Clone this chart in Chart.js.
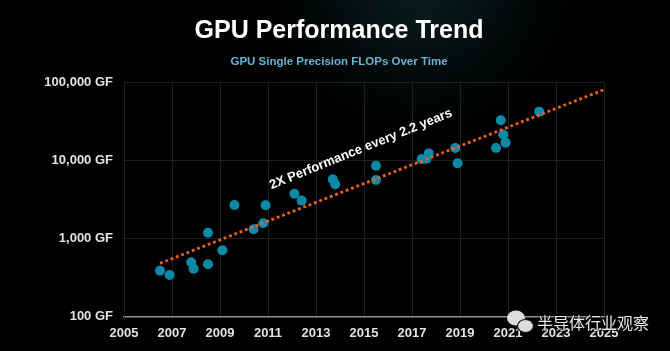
<!DOCTYPE html>
<html>
<head>
<meta charset="utf-8">
<script src="https://cdn.jsdelivr.net/npm/chart.js@4/dist/chart.umd.min.js"></script>
<style>
  html, body { margin: 0; padding: 0; background: #000; }
  #wrap { width: 670px; height: 351px; }
</style>
</head>
<body>
<div id="wrap"><canvas id="gpuChart" width="670" height="351"></canvas></div>
<script>
// GPU single precision GFLOPs by release year
const years = [2006.5, 2006.9, 2007.8, 2007.9, 2008.5, 2008.5, 2009.1, 2009.6, 2010.4, 2010.8,
               2010.9, 2012.1, 2012.4, 2013.7, 2013.8, 2015.5, 2015.5, 2017.4, 2017.6, 2017.7,
               2018.8, 2018.9, 2020.5, 2020.7, 2020.8, 2020.9, 2022.3];
const gflops = [388, 342, 497, 411, 469, 1190, 708, 2690, 1315, 1570,
                2670, 3750, 3060, 5740, 4960, 8570, 5630, 10400, 10500, 12300,
                14400, 9190, 14400, 32700, 21500, 16900, 42100];

// trend line ends
const trendYears = [2006.5, 2025];
const trendGflops = [482, 80400];

const yTicks = [100, 1000, 10000, 100000];
const yTickLabels = ['100 GF', '1,000 GF', '10,000 GF', '100,000 GF'];
const xTicks = [2005, 2007, 2009, 2011, 2013, 2015, 2017, 2019, 2021, 2023, 2025];
const xTickLabels = ['2005', '2007', '2009', '2011', '2013', '2015', '2017', '2019', '2021', '2023', '2025'];

const titleText = 'GPU Performance Trend';
const subtitleText = 'GPU Single Precision FLOPs Over Time';
const trendLabel = '2X Performance every 2.2 years';
const watermark = '半导体行业观察';

const FONT = '"Liberation Sans", Arial, Helvetica, sans-serif';

const decorations = {
    id: 'decorations',
    beforeDraw(chart) {
        const ctx = chart.ctx;
        ctx.save();
        ctx.fillStyle = '#000';
        ctx.fillRect(0, 0, chart.width, chart.height);
        // faint teal haze at the top
        const g = ctx.createRadialGradient(420, -20, 10, 420, -20, 200);
        g.addColorStop(0, 'rgba(30,90,95,0.35)');
        g.addColorStop(1, 'rgba(0,0,0,0)');
        ctx.fillStyle = g;
        ctx.fillRect(0, 0, chart.width, chart.height);
        ctx.restore();
    },
    afterDraw(chart) {
        const ctx = chart.ctx;
        const xs = chart.scales.x, ys = chart.scales.y;
        ctx.save();
        ctx.textAlign = 'center';
        ctx.textBaseline = 'middle';

        ctx.fillStyle = '#ffffff';
        ctx.font = 'bold 25px ' + FONT;
        ctx.fillText(titleText, 339, 31);

        ctx.fillStyle = '#66b4d4';
        ctx.font = 'bold 11.5px ' + FONT;
        ctx.fillText(subtitleText, 339, 62);

        // label along the trend
        ctx.save();
        ctx.translate(xs.getPixelForValue(2014.87), ys.getPixelForValue(13900));
        ctx.rotate(-22 * Math.PI / 180);
        ctx.fillStyle = '#ffffff';
        ctx.font = 'bold 13px ' + FONT;
        ctx.fillText(trendLabel, 0, 0);
        ctx.restore();

        // watermark icon
        ctx.fillStyle = '#dcdcdc';
        ctx.strokeStyle = '#111';
        ctx.lineWidth = 1.2;
        ctx.beginPath();
        ctx.ellipse(516, 318, 9, 7.5, 0, 0, Math.PI * 2);
        ctx.fill();
        ctx.beginPath();
        ctx.ellipse(525.5, 326, 8, 6.5, 0, 0, Math.PI * 2);
        ctx.fill();
        ctx.stroke();

        ctx.textAlign = 'left';
        ctx.font = '16px "Noto Sans CJK SC", sans-serif';
        ctx.lineWidth = 2;
        ctx.strokeStyle = 'rgba(0,0,0,0.6)';
        ctx.strokeText(watermark, 537, 323);
        ctx.fillStyle = '#e6e6e6';
        ctx.fillText(watermark, 537, 323);
        ctx.restore();
    }
};

new Chart(document.getElementById('gpuChart'), {
    type: 'scatter',
    data: {
        datasets: [
            {
                type: 'line',
                data: trendYears.map((x, i) => ({ x: x, y: trendGflops[i] })),
                borderColor: '#f0621c',
                borderWidth: 2.8,
                borderDash: [2.8, 2.9],
                pointRadius: 0,
                fill: false,
                order: 0
            },
            {
                data: years.map((x, i) => ({ x: x, y: gflops[i] })),
                backgroundColor: '#0b89a6',
                borderWidth: 0,
                pointRadius: 5,
                order: 1
            }
        ]
    },
    options: {
        responsive: false,
        animation: false,
        layout: { padding: { top: 82.3, right: 66, left: 0, bottom: 0 } },
        plugins: {
            legend: { display: false },
            tooltip: { enabled: false }
        },
        scales: {
            x: {
                type: 'linear',
                min: 2005,
                max: 2025,
                afterFit: (s) => { s.height = 34.3; },
                afterBuildTicks: (s) => { s.ticks = xTicks.map(v => ({ value: v })); },
                grid: { color: '#1f1f1f', lineWidth: 1, drawTicks: false },
                border: { color: '#909090', width: 1.5 },
                ticks: {
                    padding: 9,
                    color: '#e2e2e2',
                    font: { family: FONT, size: 13, weight: 'bold' },
                    callback: (v, i) => xTickLabels[i]
                }
            },
            y: {
                type: 'logarithmic',
                min: 100,
                max: 100000,
                afterFit: (s) => { s.width = 124; },
                afterBuildTicks: (s) => { s.ticks = yTicks.map(v => ({ value: v })); },
                grid: { color: '#1f1f1f', lineWidth: 1, drawTicks: false },
                border: { color: '#1f1f1f', width: 1 },
                ticks: {
                    padding: 11,
                    color: '#e2e2e2',
                    font: { family: FONT, size: 13, weight: 'bold' },
                    callback: (v, i) => yTickLabels[i]
                }
            }
        }
    },
    plugins: [decorations]
});
</script>
</body>
</html>
